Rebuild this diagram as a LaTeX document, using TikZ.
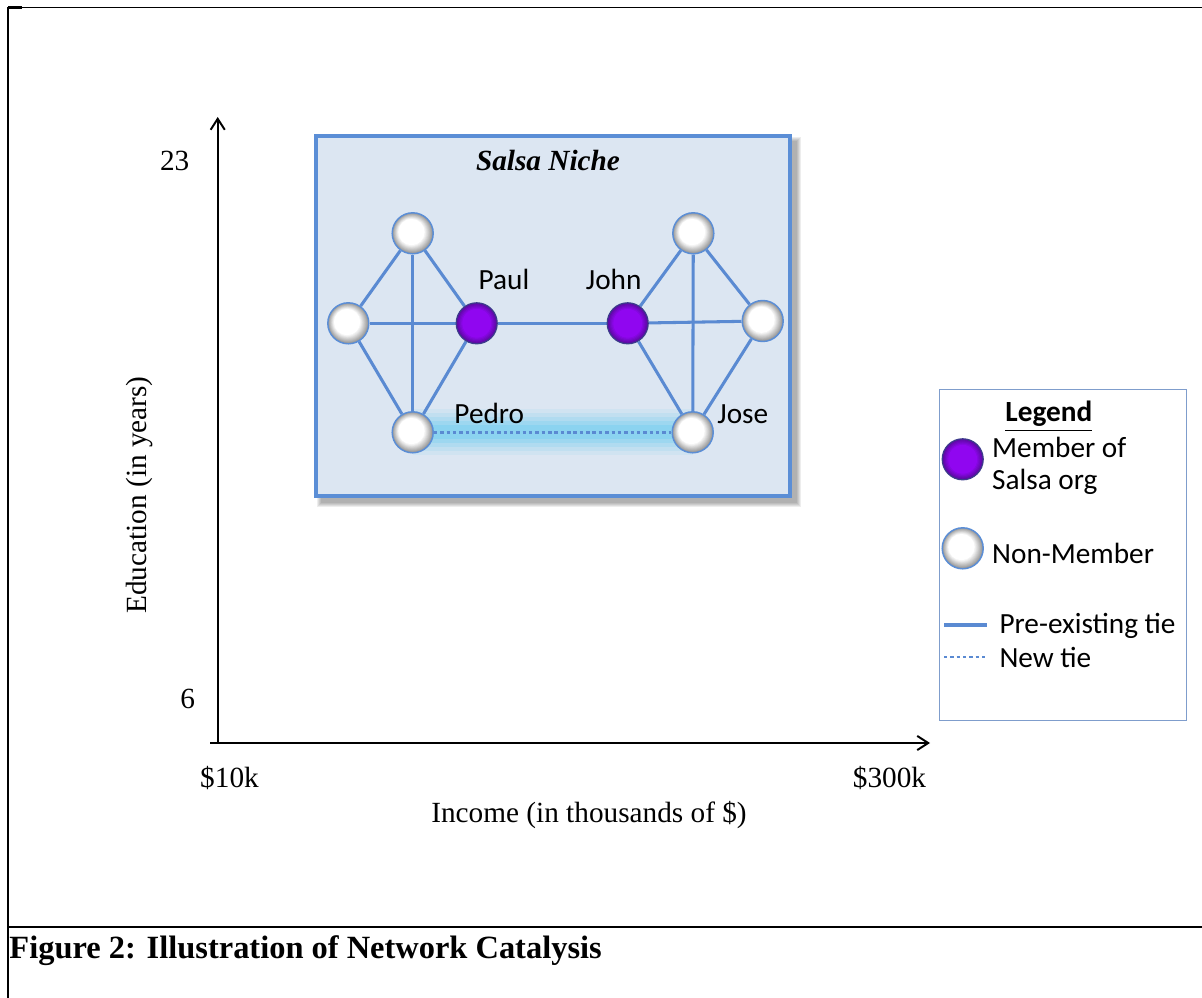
\documentclass[tikz,border=0pt]{standalone}
\usepackage{fontspec}
\setmainfont{Liberation Serif}
\newfontfamily\calibri{Carlito}
\usetikzlibrary{arrows.meta}
\newlength\upx
\setlength\upx{0.41pt}
\definecolor{tieblue}{HTML}{5A8AD2}
\definecolor{nichefill}{HTML}{DCE6F2}
\definecolor{nicheedge}{HTML}{5B8ED6}
\definecolor{glowcyan}{HTML}{6CCDF0}
\definecolor{legendedge}{HTML}{7F9DCC}
\definecolor{purplecore}{HTML}{9006F0}
\definecolor{purplerim}{HTML}{5A0AA0}
\definecolor{purpleedge}{HTML}{3C3C8C}
\definecolor{ballrim}{HTML}{959595}
\pgfdeclarelayer{bottom}
\pgfdeclarelayer{links}
\pgfsetlayers{bottom,links,main}
\tikzset{
  member/.style={circle, minimum size=41\upx, inner sep=0pt, draw=purpleedge, line width=0.5pt,
    path picture={\foreach \i [evaluate=\i as \p using {int(100-20*\i)}, evaluate=\i as \rr using {8.4-0.5*\i}] in {0,...,5}
      \fill[purplerim!\p!purplecore] (path picture bounding box.center) circle ({\rr*1pt});}},
  nonmember/.style={circle, minimum size=41\upx, inner sep=0pt, draw=nicheedge, line width=0.6pt,
    path picture={\foreach \i [evaluate=\i as \p using {int(100-10*\i)}, evaluate=\i as \rr using {8.4-0.3*\i}] in {0,...,10}
      \fill[ballrim!\p!white] ([shift={({-0.05*\i*1pt},{0.05*\i*1pt})}]path picture bounding box.center) circle ({\rr*1pt});}},
  tie/.style={draw=tieblue, line width=1.25pt},
  newtie/.style={draw=tieblue, line width=1pt, dash pattern=on 1.4pt off 1.2pt},
  calib/.style={font=\calibri\fontsize{12}{13.4}\selectfont, inner sep=0pt},
  serif/.style={font=\fontsize{12}{14}\selectfont, inner sep=0pt},
  axisline/.style={line width=0.8pt, -{Straight Barb[length=4.5pt, width=5.8pt]}},
  frameline/.style={line width=0.65pt}
}
\begin{document}
\begin{tikzpicture}[x=0.41pt, y=-0.41pt]
\useasboundingbox (0,0) rectangle (1202,998);

% page frame and caption rule
\coordinate (ftl) at (8,7.5);
\coordinate (ftr) at (1202,7.5);
\coordinate (fbl) at (8,998);
\coordinate (cl) at (8,927);
\coordinate (cr) at (1202,927);
\draw[frameline] (ftr) -- (ftl) -- (fbl);
\draw[line width=1.3pt] (ftl) -- ++(14,0);
\draw[line width=0.85pt] (cl) -- (cr);
\node[anchor=base west, inner sep=0pt, font=\bfseries\fontsize{13.3}{15}\selectfont] (caption) at (9,958) {Figure 2: Illustration of Network Catalysis};

% axes
\coordinate (yfoot) at (217.7,743);
\coordinate (ytip) at (217.7,117);
\coordinate (xfoot) at (210,743);
\coordinate (xtip) at (930,743);
\draw[axisline] (yfoot) -- (ytip);
\draw[axisline] (xfoot) -- (xtip);
\node[serif, anchor=base] (ymax) at (174.7,170.7) {23};
\node[serif, anchor=base] (ymin) at (187.7,708.3) {6};
\node[serif, anchor=base] (xmin) at (229.5,787) {\$10k};
\node[serif, anchor=base] (xmax) at (889.5,787) {\$300k};
\node[serif, anchor=base] (xlabel) at (589,822) {Income (in thousands of \$)};
\node[serif, rotate=90] (ylabel) at (140,495) {Education (in years)};

% the niche box with its soft shadow
\begin{pgfonlayer}{bottom}
  \foreach \k in {0,...,4}
    \fill[black, opacity=0.07] (317+\k,137+\k) rectangle (801-\k,507-\k);
  \node[draw=nicheedge, fill=nichefill, line width=1.64pt, minimum width=194.3pt, minimum height=147.6pt, inner sep=0pt] (niche) at (553,316) {};
\end{pgfonlayer}
\node[anchor=base, inner sep=0pt, font=\bfseries\itshape\fontsize{12}{14}\selectfont] (nichetitle) at (548,170.7) {Salsa Niche};

% people
\node[nonmember] (tl) at (412.7,233.3) {};
\node[nonmember] (lf) at (348.3,323.3) {};
\node[member] (paul) at (476.7,323.3) {};
\node[nonmember] (pedro) at (412.7,432.3) {};
\node[member] (john) at (627.7,323.3) {};
\node[nonmember] (tr) at (693.3,233.3) {};
\node[nonmember] (rt) at (762.7,321) {};
\node[nonmember] (jose) at (692.7,432.3) {};

\node[calib, anchor=base] (paullab) at (504,290) {Paul};
\node[calib, anchor=base] (johnlab) at (613.7,290) {John};
\node[calib, anchor=base] (pedrolab) at (489.3,424) {Pedro};
\node[calib, anchor=base] (joselab) at (742.8,424) {Jose};

% ties
\begin{pgfonlayer}{links}
  \foreach \w/\o in {46/0.10, 38/0.14, 30/0.2, 22/0.27, 14/0.35}
    \draw[glowcyan, line width=\w*0.41pt, opacity=\o] (pedro.center) -- (jose.center);
  \draw[tie] (tl) -- (lf);
  \draw[tie] (tl) -- (pedro);
  \draw[tie] (tl) -- (paul);
  \draw[tie] (lf) -- (paul);
  \draw[tie] (lf) -- (pedro);
  \draw[tie] (paul) -- (pedro);
  \draw[tie] (paul) -- (john);
  \draw[tie] (john) -- (tr);
  \draw[tie] (john) -- (rt);
  \draw[tie] (john) -- (jose);
  \draw[tie] (tr) -- (jose);
  \draw[tie] (tr) -- (rt);
  \draw[tie] (rt) -- (jose);
  \draw[newtie] (pedro) -- (jose);
\end{pgfonlayer}

% legend
\node[draw=legendedge, fill=white, line width=0.5pt, minimum width=101.3pt, minimum height=135.7pt, inner sep=0pt] (legend) at (1063,555) {};
\node[anchor=base, inner sep=0pt, font=\calibri\bfseries\fontsize{12}{14}\selectfont] (legendtitle) at (1048.8,421.7) {\underline{Legend}};
\node[member] (lmem) at (962.7,459.3) {};
\node[calib, anchor=base west, align=left] (lmemtext) at (991.7,490) {Member of\\Salsa org};
\node[nonmember] (lnon) at (962.7,548.3) {};
\node[calib, anchor=base west] (lnontext) at (991.7,563.3) {Non-Member};
\coordinate (lta) at (944,625);
\coordinate (ltb) at (987,625);
\draw[tie, line width=1.45pt] (lta) -- (ltb);
\node[calib, anchor=base west] (ltietext) at (999,633.3) {Pre-existing tie};
\coordinate (lna) at (944,657);
\coordinate (lnb) at (987,657);
\draw[newtie] (lna) -- (lnb);
\node[calib, anchor=base west] (lnewtext) at (999,667.3) {New tie};
\end{tikzpicture}
\end{document}
